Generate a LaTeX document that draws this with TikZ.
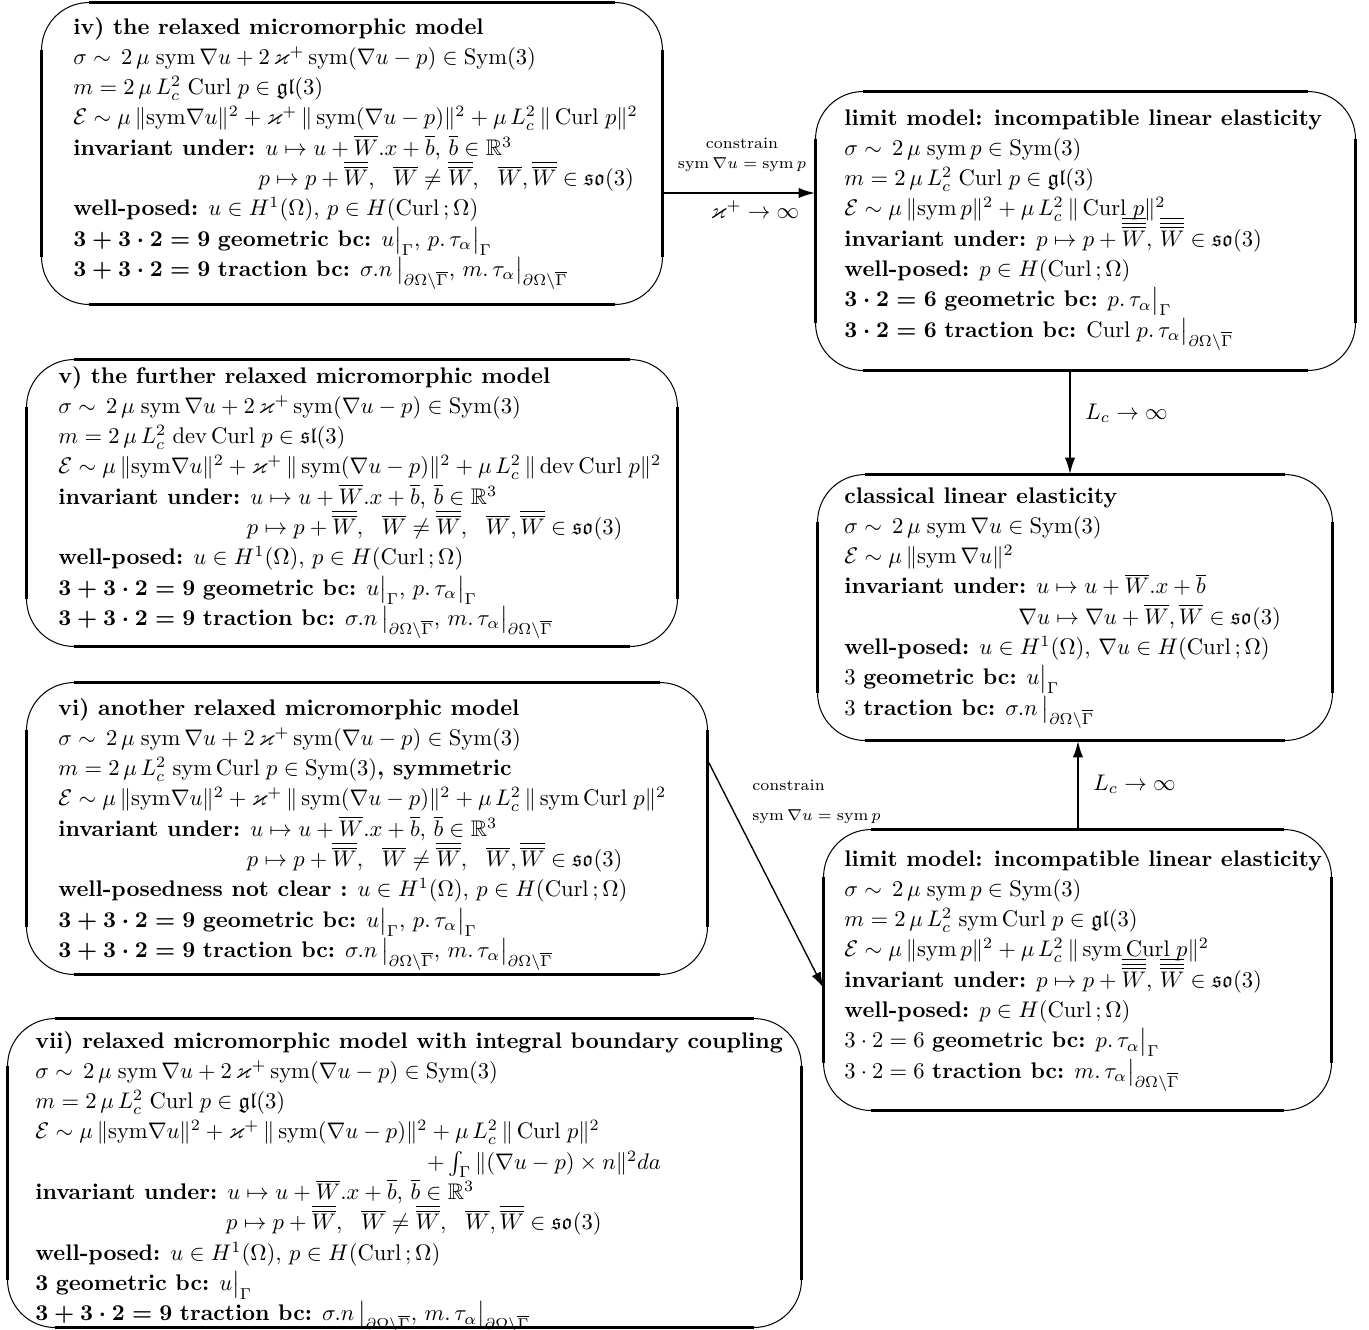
\documentclass[tikz,border=0pt]{standalone}
\usepackage{amssymb}
\usetikzlibrary{arrows.meta,fit}
\newcommand\Wb{\overline{W}}
\newcommand\Wbb{\overline{\overline{W}}}
\newcommand\Wbbb{\overline{\overline{\overline{W}}}}
\newcommand\bb{\overline{b}}
\newcommand\Gb{\partial\Omega\setminus\overline{\Gamma}}
\newcommand\Cu{\mathrm{Curl}}
\newcommand\sy{\mathrm{sym}}
\newcommand\mylines[1]{{\renewcommand\arraystretch{1.119}\begin{tabular}[t]{@{}l@{}}#1\end{tabular}}}
\newcommand\rw[1]{\smash{#1}\\}
\tikzset{
  boxthin/.style={line width=0.45pt, rounded corners=21pt},
  boxthick/.style={line width=1.2pt},
  txt/.style={anchor=base west, inner sep=0pt},
  arr/.style={line width=1.1pt, -{Latex[length=7.5pt,width=4.6pt]}},
  arrthin/.style={line width=0.6pt, -{Latex[length=7pt,width=4.4pt]}},
  lbl/.style={font=\scriptsize, inner sep=0pt},
  lblbig/.style={inner sep=0pt}
}
\newcommand\mkbox[5]{%
  \node[fit={(#2,#3)(#4,#5)}, inner sep=0pt] (#1) {};
  \draw[boxthin] (#1.north west) rectangle (#1.south east);
  \draw[boxthick] ([xshift=21pt]#1.north west) -- ([xshift=-21pt]#1.north east);
  \draw[boxthick] ([xshift=21pt]#1.south west) -- ([xshift=-21pt]#1.south east);
  \draw[boxthick] ([yshift=-21pt]#1.north west) -- ([yshift=21pt]#1.south west);
  \draw[boxthick] ([yshift=-21pt]#1.north east) -- ([yshift=21pt]#1.south east);
}
\begin{document}
\begin{tikzpicture}[x=0.443pt,y=-0.443pt]
\useasboundingbox (0,0) rectangle (1369,1329);

\mkbox{iv}{42}{3}{662}{304}
\mkbox{lima}{816}{92}{1355}{370}
\mkbox{v}{27}{360}{677}{646}
\mkbox{cl}{818}{475}{1332}{740}
\mkbox{vi}{27}{683}{707}{974}
\mkbox{limb}{824}{830}{1331}{1110}
\mkbox{vii}{8}{1019}{801}{1327}

\node[txt] (ivt) at (73,34) {\mylines{%
\rw{\textbf{iv) the relaxed micromorphic model}}
\rw{$\sigma\sim\,2\,\mu\;\sy\,\nabla u+2\,\varkappa^+\,\sy(\nabla u-p)\in\mathrm{Sym}(3)$}
\rw{$m=2\,\mu\,L_c^2\;\Cu\;p\in\mathfrak{gl}(3)$}
\rw{$\mathcal{E}\sim\mu\,\|\sy\nabla u\|^2+\varkappa^+\,\|\,\sy(\nabla u-p)\|^2+\mu\,L_c^2\,\|\,\Cu\;p\|^2$}
\rw{\textbf{invariant under:} $u\mapsto u+\Wb.x+\bb,\,\bb\in\mathbb{R}^3$}
\rw{\hspace*{82pt}$p\mapsto p+\Wbb,\ \ \Wb\neq\Wbb,\ \ \Wb,\Wbb\in\mathfrak{so}(3)$}
\rw{\textbf{well-posed:} $u\in H^1(\Omega),\,p\in H(\Cu\,;\Omega)$}
\rw{{\boldmath$3+3\cdot2=9$} \textbf{geometric bc:} $u\big|_\Gamma,\,p.\,\tau_\alpha\big|_\Gamma$}
\rw{{\boldmath$3+3\cdot2=9$} \textbf{traction bc:} $\sigma.n\,\big|_{\Gb},\,m.\,\tau_\alpha\big|_{\Gb}$}
}};

\node[txt] (limat) at (844,125) {\mylines{%
\rw{\textbf{limit model: incompatible linear elasticity}}
\rw{$\sigma\sim\,2\,\mu\;\sy\,p\in\mathrm{Sym}(3)$}
\rw{$m=2\,\mu\,L_c^2\;\Cu\;p\in\mathfrak{gl}(3)$}
\rw{$\mathcal{E}\sim\mu\,\|\sy\,p\|^2+\mu\,L_c^2\,\|\,\Cu\;p\|^2$}
\rw{\textbf{invariant under:} $p\mapsto p+\Wbbb,\,\Wbbb\in\mathfrak{so}(3)$}
\rw{\textbf{well-posed:} $p\in H(\Cu\,;\Omega)$}
\rw{{\boldmath$3\cdot2=6$} \textbf{geometric bc:} $p.\,\tau_\alpha\big|_\Gamma$}
\rw{{\boldmath$3\cdot2=6$} \textbf{traction bc:} $\Cu\;p.\,\tau_\alpha\big|_{\Gb}$}
}};

\node[txt] (vt) at (58,383) {\mylines{%
\rw{\textbf{v) the further relaxed micromorphic model}}
\rw{$\sigma\sim\,2\,\mu\;\sy\,\nabla u+2\,\varkappa^+\,\sy(\nabla u-p)\in\mathrm{Sym}(3)$}
\rw{$m=2\,\mu\,L_c^2\;\mathrm{dev}\,\Cu\;p\in\mathfrak{sl}(3)$}
\rw{$\mathcal{E}\sim\mu\,\|\sy\nabla u\|^2+\varkappa^+\,\|\,\sy(\nabla u-p)\|^2+\mu\,L_c^2\,\|\,\mathrm{dev}\,\Cu\;p\|^2$}
\rw{\textbf{invariant under:} $u\mapsto u+\Wb.x+\bb,\,\bb\in\mathbb{R}^3$}
\rw{\hspace*{83.5pt}$p\mapsto p+\Wbb,\ \ \Wb\neq\Wbb,\ \ \Wb,\Wbb\in\mathfrak{so}(3)$}
\rw{\textbf{well-posed:} $u\in H^1(\Omega),\,p\in H(\Cu\,;\Omega)$}
\rw{{\boldmath$3+3\cdot2=9$} \textbf{geometric bc:} $u\big|_\Gamma,\,p.\,\tau_\alpha\big|_\Gamma$}
\rw{{\boldmath$3+3\cdot2=9$} \textbf{traction bc:} $\sigma.n\,\big|_{\Gb},\,m.\,\tau_\alpha\big|_{\Gb}$}
}};

\node[txt] (clt) at (844,503) {\mylines{%
\rw{\textbf{classical linear elasticity}}
\rw{$\sigma\sim\,2\,\mu\;\sy\,\nabla u\in\mathrm{Sym}(3)$}
\rw{$\mathcal{E}\sim\mu\,\|\sy\,\nabla u\|^2$}
\rw{\textbf{invariant under:} $u\mapsto u+\Wb.x+\bb$}
\rw{\hspace*{77pt}$\nabla u\mapsto\nabla u+\Wb,\Wb\in\mathfrak{so}(3)$}
\rw{\textbf{well-posed:} $u\in H^1(\Omega),\,\nabla u\in H(\Cu\,;\Omega)$}
\rw{$3$ \textbf{geometric bc:} $u\big|_\Gamma$}
\rw{$3$ \textbf{traction bc:} $\sigma.n\,\big|_{\Gb}$}
}};

\node[txt] (vit) at (58,715) {\mylines{%
\rw{\textbf{vi) another relaxed micromorphic model}}
\rw{$\sigma\sim\,2\,\mu\;\sy\,\nabla u+2\,\varkappa^+\,\sy(\nabla u-p)\in\mathrm{Sym}(3)$}
\rw{$m=2\,\mu\,L_c^2\;\sy\,\Cu\;p\in\mathrm{Sym}(3)$\textbf{, symmetric}}
\rw{$\mathcal{E}\sim\mu\,\|\sy\nabla u\|^2+\varkappa^+\,\|\,\sy(\nabla u-p)\|^2+\mu\,L_c^2\,\|\,\sy\,\Cu\;p\|^2$}
\rw{\textbf{invariant under:} $u\mapsto u+\Wb.x+\bb,\,\bb\in\mathbb{R}^3$}
\rw{\hspace*{83.5pt}$p\mapsto p+\Wbb,\ \ \Wb\neq\Wbb,\ \ \Wb,\Wbb\in\mathfrak{so}(3)$}
\rw{\textbf{well-posedness not clear :} $u\in H^1(\Omega),\,p\in H(\Cu\,;\Omega)$}
\rw{{\boldmath$3+3\cdot2=9$} \textbf{geometric bc:} $u\big|_\Gamma,\,p.\,\tau_\alpha\big|_\Gamma$}
\rw{{\boldmath$3+3\cdot2=9$} \textbf{traction bc:} $\sigma.n\,\big|_{\Gb},\,m.\,\tau_\alpha\big|_{\Gb}$}
}};

\node[txt] (limbt) at (844,866) {\mylines{%
\rw{\textbf{limit model: incompatible linear elasticity}}
\rw{$\sigma\sim\,2\,\mu\;\sy\,p\in\mathrm{Sym}(3)$}
\rw{$m=2\,\mu\,L_c^2\;\sy\,\Cu\;p\in\mathfrak{gl}(3)$}
\rw{$\mathcal{E}\sim\mu\,\|\sy\,p\|^2+\mu\,L_c^2\,\|\,\sy\,\Cu\;p\|^2$}
\rw{\textbf{invariant under:} $p\mapsto p+\Wbbb,\,\Wbbb\in\mathfrak{so}(3)$}
\rw{\textbf{well-posed:} $p\in H(\Cu\,;\Omega)$}
\rw{$3\cdot2=6$ \textbf{geometric bc:} $p.\,\tau_\alpha\big|_\Gamma$}
\rw{$3\cdot2=6$ \textbf{traction bc:} $m.\,\tau_\alpha\big|_{\Gb}$}
}};

\node[txt] (viit) at (35,1048) {\mylines{%
\rw{\textbf{vii) relaxed micromorphic model with integral boundary coupling}}
\rw{$\sigma\sim\,2\,\mu\;\sy\,\nabla u+2\,\varkappa^+\,\sy(\nabla u-p)\in\mathrm{Sym}(3)$}
\rw{$m=2\,\mu\,L_c^2\;\Cu\;p\in\mathfrak{gl}(3)$}
\rw{$\mathcal{E}\sim\mu\,\|\sy\nabla u\|^2+\varkappa^+\,\|\,\sy(\nabla u-p)\|^2+\mu\,L_c^2\,\|\,\Cu\;p\|^2$}
\rw{\hspace*{173.5pt}$+\int_\Gamma\|(\nabla u-p)\times n\|^2da$}
\rw{\textbf{invariant under:} $u\mapsto u+\Wb.x+\bb,\,\bb\in\mathbb{R}^3$}
\rw{\hspace*{84.5pt}$p\mapsto p+\Wbb,\ \ \Wb\neq\Wbb,\ \ \Wb,\Wbb\in\mathfrak{so}(3)$}
\rw{\textbf{well-posed:} $u\in H^1(\Omega),\,p\in H(\Cu\,;\Omega)$}
\rw{{\boldmath$3$} \textbf{geometric bc:} $u\big|_\Gamma$}
\rw{{\boldmath$3+3\cdot2=9$} \textbf{traction bc:} $\sigma.n\,\big|_{\Gb},\,m.\,\tau_\alpha\big|_{\Gb}$}
}};

% connectors
\coordinate (ya) at (0,193);
\coordinate (xb) at (1070,0);
\coordinate (xc) at (1078,0);
\coordinate (yd1) at (0,760);
\coordinate (yd2) at (0,988);
\draw[arr] (iv.east |- ya) -- (lima.west |- ya);
\draw[arr] (lima.south -| xb) -- (cl.north -| xb);
\draw[arr] (limb.north -| xc) -- (cl.south -| xc);
\draw[arrthin] (vi.east |- yd1) -- (limb.west |- yd2);

% labels
\node[lbl] (la1) at (742,143) {constrain};
\node[lbl] (la2) at (742,165) {$\mathrm{sym}\,\nabla u=\mathrm{sym}\,p$};
\node[lblbig] (la3) at (755,210) {$\varkappa^+\to\infty$};
\node[lblbig, anchor=west] (lb) at (1085,413) {$L_c\to\infty$};
\node[lblbig, anchor=west] (lc) at (1093,784) {$L_c\to\infty$};
\node[lbl, anchor=west] (ld1) at (752,785) {constrain};
\node[lbl, anchor=west] (ld2) at (752,817) {$\mathrm{sym}\,\nabla u=\mathrm{sym}\,p$};
\end{tikzpicture}
\end{document}
